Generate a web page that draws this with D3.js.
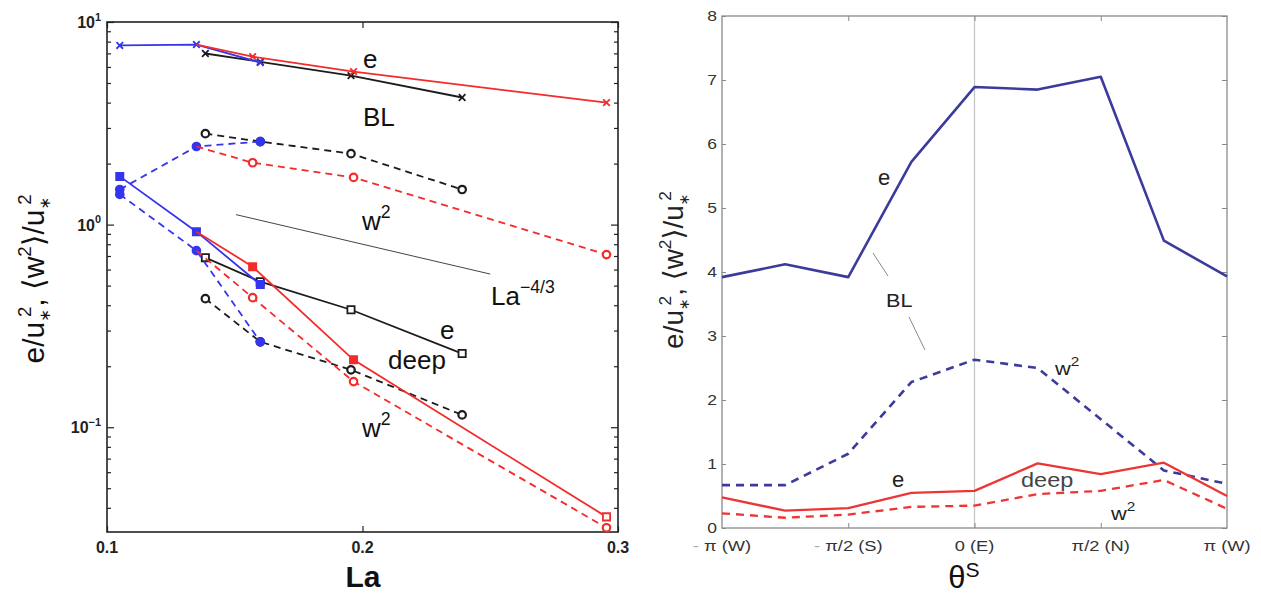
<!DOCTYPE html>
<html>
<head>
<meta charset="utf-8">
<script src="https://cdn.jsdelivr.net/npm/d3@7"></script>
<style>
  body { margin: 0; background: #fff; }
  text { font-family: "Liberation Sans", Arial, Helvetica, "DejaVu Sans", sans-serif; }
</style>
</head>
<body>
<div id="chart"></div>
<script>
const width = 1261;
const height = 595;

// ---- left panel data (La on x, log y) ----
const laBlue  = [0.105, 0.135, 0.16];
const laRed   = [0.135, 0.157, 0.1965, 0.2955];
const laBlack = [0.1385, 0.16, 0.1955, 0.239];

const blEBlue  = [7.66, 7.74, 6.31];
const blERed   = [7.74, 6.75, 5.69, 4.0];
const blEBlack = [6.99, 6.36, 5.44, 4.24];

const blW2Blue  = [1.49, 2.43, 2.57];
const blW2Red   = [2.43, 2.02, 1.71, 0.711];
const blW2Black = [2.81, 2.57, 2.24, 1.49];

const deepEBlue  = [1.73, 0.923, 0.506];
const deepERed   = [0.923, 0.62, 0.215, 0.0361];
const deepEBlack = [0.687, 0.523, 0.38, 0.231];

const deepW2Blue  = [1.41, 0.744, 0.264];
const deepW2Red   = [0.744, 0.436, 0.168, 0.0319];
const deepW2Black = [0.431, 0.264, 0.192, 0.115];

// La^-4/3 guide line end points
const refLa  = [0.1505, 0.25];
const refVal = [1.12, 0.57];

const laTicks = [0.1, 0.2, 0.3];
const decadeTicks = [0.1, 1, 10];

// ---- right panel data (theta^S in units of pi) ----
const thetaPi = [-1, -0.75, -0.5, -0.25, 0, 0.25, 0.5, 0.75, 1];
const eBL    = [3.92, 4.12, 3.92, 5.72, 6.89, 6.85, 7.05, 4.49, 3.93];
const w2BL   = [0.67, 0.67, 1.16, 2.28, 2.63, 2.5, 1.7, 0.9, 0.69];
const eDeep  = [0.48, 0.27, 0.31, 0.55, 0.58, 1.01, 0.84, 1.02, 0.5];
const w2Deep = [0.23, 0.16, 0.21, 0.33, 0.35, 0.53, 0.58, 0.75, 0.3];

const thetaTickPi = [-1, -0.5, 0, 0.5, 1];
const thetaTickLabels = [["-", "π (W)"], ["-", "π/2 (S)"], ["", "0 (E)"], ["", "π/2 (N)"], ["", "π (W)"]];

const cRed = "#f22b2b", cBlue = "#3535ee", cBlack = "#1c1c1c";
const cNavy = "#3b3b9c", cRed2 = "#ee3535";

const svg = d3.select("#chart")
  .append("svg")
  .attr("width", width)
  .attr("height", height);

// text with super/subscripts: parts = [{t, shift (em, neg = up), small, dx (em)}]
function rich(parent, x, y, size, parts) {
  const t = parent.append("text").attr("x", x).attr("y", y).style("font-size", size + "px");
  let level = 0;
  parts.forEach(p => {
    const ts = t.append("tspan").text(p.t);
    const off = (p.shift || 0) * size;
    if (off !== level) ts.attr("dy", off - level);
    level = off;
    if (p.small) ts.style("font-size", (size * p.small) + "px");
    if (p.dx) ts.attr("dx", p.dx * size);
  });
  return t;
}

const yLabelParts = [
  { t: "e/u" }, { t: "∗", shift: 0.2, small: 0.5 }, { t: "2", shift: -0.42, small: 0.62, dx: -0.26 },
  { t: ", ⟨w" }, { t: "2", shift: -0.42, small: 0.62 }, { t: "⟩/u" },
  { t: "∗", shift: 0.2, small: 0.5 }, { t: "2", shift: -0.42, small: 0.62, dx: -0.26 }
];

// ================= left panel =================
const xL = d3.scaleLinear().domain([0.1, 0.3]).range([107, 618]);
const yL = d3.scaleLog().domain([0.0304, 10]).range([532, 22]);
const left = svg.append("g");

const minorL = [];
[0.01, 0.1, 1].forEach(d => { for (let k = 2; k <= 9; k++) minorL.push(k * d); });
const minorIn = minorL.filter(v => v >= 0.0304 && v <= 10);

function styleTicks(g) {
  g.select(".domain").remove();
  g.selectAll("line").attr("stroke", "#222").attr("stroke-width", 1.2);
}

left.append("g").attr("transform", "translate(0,532)")
  .call(d3.axisBottom(xL).tickValues(laTicks).tickSize(-6).tickFormat(""))
  .call(styleTicks);
left.append("g").attr("transform", "translate(0,22)")
  .call(d3.axisTop(xL).tickValues(laTicks).tickSize(-6).tickFormat(""))
  .call(styleTicks);
left.append("g").attr("transform", "translate(107,0)")
  .call(d3.axisLeft(yL).tickValues(decadeTicks).tickSize(-7).tickFormat(""))
  .call(styleTicks);
left.append("g").attr("transform", "translate(107,0)")
  .call(d3.axisLeft(yL).tickValues(minorIn).tickSize(-4).tickFormat(""))
  .call(styleTicks);
left.append("g").attr("transform", "translate(618,0)")
  .call(d3.axisRight(yL).tickValues(decadeTicks).tickSize(-7).tickFormat(""))
  .call(styleTicks);
left.append("g").attr("transform", "translate(618,0)")
  .call(d3.axisRight(yL).tickValues(minorIn).tickSize(-4).tickFormat(""))
  .call(styleTicks);

left.append("rect")
  .attr("x", 107).attr("y", 22).attr("width", 511).attr("height", 510)
  .attr("fill", "none").attr("stroke", "#222").attr("stroke-width", 1.6);

// tick labels
left.selectAll(".xlab").data(laTicks).enter().append("text")
  .attr("x", d => xL(d)).attr("y", 553)
  .attr("text-anchor", "middle")
  .style("font-size", "16px").style("font-weight", "bold").style("fill", "#222")
  .text(d => d3.format(".1f")(d));

decadeTicks.forEach(d => {
  const t = rich(left, 101, yL(d) + 6, 16, [
    { t: "10" }, { t: String(Math.round(Math.log10(d))).replace("-", "−"), shift: -0.45, small: 0.68 }
  ]);
  t.attr("text-anchor", "end").style("font-weight", "bold").style("fill", "#222");
});

// guide line La^-4/3
const lineL = d3.line().x(d => xL(d[0])).y(d => yL(d[1]));
left.append("path")
  .attr("d", lineL(d3.zip(refLa, refVal)))
  .attr("fill", "none").attr("stroke", "#444").attr("stroke-width", 1);

const leftSeries = [
  { x: laBlack, y: blEBlack,    color: cBlack, dash: false, mark: "x" },
  { x: laBlack, y: blW2Black,   color: cBlack, dash: true,  mark: "o" },
  { x: laBlack, y: deepEBlack,  color: cBlack, dash: false, mark: "s" },
  { x: laBlack, y: deepW2Black, color: cBlack, dash: true,  mark: "o" },
  { x: laBlue,  y: blEBlue,     color: cBlue,  dash: false, mark: "x", fill: true },
  { x: laBlue,  y: blW2Blue,    color: cBlue,  dash: true,  mark: "o", fill: true },
  { x: laBlue,  y: deepEBlue,   color: cBlue,  dash: false, mark: "s", fill: true },
  { x: laBlue,  y: deepW2Blue,  color: cBlue,  dash: true,  mark: "o", fill: true },
  { x: laRed,   y: blERed,      color: cRed,   dash: false, mark: "x", skipFirst: true },
  { x: laRed,   y: blW2Red,     color: cRed,   dash: true,  mark: "o", skipFirst: true },
  { x: laRed,   y: deepERed,    color: cRed,   dash: false, mark: "s", skipFirst: true, fill: true },
  { x: laRed,   y: deepW2Red,   color: cRed,   dash: true,  mark: "o", skipFirst: true }
];

const symX = d3.symbol(d3.symbolTimes, 30);
const symS = d3.symbol(d3.symbolSquare, 52);
const symO = d3.symbol(d3.symbolCircle, 44);

leftSeries.forEach(s => {
  const pts = d3.zip(s.x, s.y);
  left.append("path")
    .attr("d", lineL(pts))
    .attr("fill", "none")
    .attr("stroke", s.color)
    .attr("stroke-width", 1.8)
    .attr("stroke-dasharray", s.dash ? "7,5" : null);

  const markPts = s.skipFirst ? pts.slice(1) : pts;
  const sym = s.mark === "x" ? symX : s.mark === "s" ? symS : symO;
  // the last red points at La=0.295 are drawn open
  left.selectAll(null).data(markPts).enter().append("path")
    .attr("transform", d => `translate(${xL(d[0])},${yL(d[1])})`)
    .attr("d", sym)
    .attr("fill", (d, i) => s.mark === "x" ? "none"
      : (s.fill && !(s.color === cRed && i === markPts.length - 1) ? s.color : "#fff"))
    .attr("stroke", s.color)
    .attr("stroke-width", s.mark === "o" ? 2.2 : 1.8);
});

// annotations
const annL = left.append("g").style("fill", "#111");
rich(annL, 363, 68, 26, [{ t: "e" }]);
rich(annL, 363, 126, 26, [{ t: "BL" }]);
rich(annL, 362, 230, 26, [{ t: "w" }, { t: "2", shift: -0.45, small: 0.68 }]);
rich(annL, 491, 305, 26, [{ t: "La" }, { t: "−4/3", shift: -0.45, small: 0.68 }]);
rich(annL, 440, 339, 26, [{ t: "e" }]);
rich(annL, 388, 369, 26, [{ t: "deep" }]);
rich(annL, 362, 437, 26, [{ t: "w" }, { t: "2", shift: -0.45, small: 0.68 }]);

// axis titles
left.append("text")
  .attr("x", 363).attr("y", 587)
  .attr("text-anchor", "middle")
  .style("font-size", "30px").style("font-weight", "bold").style("fill", "#111")
  .text("La");

const yTitleL = rich(left.append("g").attr("transform", "translate(44,279) rotate(-90)"), 0, 0, 30, yLabelParts);
yTitleL.attr("text-anchor", "middle").style("fill", "#111");

// ================= right panel =================
const xR = d3.scaleLinear().domain([-Math.PI, Math.PI]).range([722, 1227]);
const yR = d3.scaleLinear().domain([0, 8]).range([528, 16]);
const right = svg.append("g");

function styleTicksR(g) {
  g.select(".domain").remove();
  g.selectAll("line").attr("stroke", "#888").attr("stroke-width", 1);
}

const thetaTicks = thetaTickPi.map(p => p * Math.PI);

// zero line
right.append("line")
  .attr("x1", xR(0)).attr("x2", xR(0)).attr("y1", yR(8)).attr("y2", yR(0))
  .attr("stroke", "#c4c4c4").attr("stroke-width", 1.2);

right.append("g").attr("transform", "translate(0,528)")
  .call(d3.axisBottom(xR).tickValues(thetaTicks.slice(1, 4)).tickSize(-5).tickFormat(""))
  .call(styleTicksR);
right.append("g").attr("transform", "translate(0,16)")
  .call(d3.axisTop(xR).tickValues(thetaTicks.slice(1, 4)).tickSize(-5).tickFormat(""))
  .call(styleTicksR);
right.append("g").attr("transform", "translate(1227,0)")
  .call(d3.axisRight(yR).ticks(8).tickSize(-5).tickFormat(""))
  .call(styleTicksR);
const yAxR = right.append("g").attr("transform", "translate(722,0)")
  .call(d3.axisLeft(yR).ticks(8).tickSize(-4).tickPadding(4).tickFormat(d3.format("d")))
  .call(styleTicksR);
yAxR.selectAll("text")
  .attr("transform", "scale(1.25,1)")
  .style("font-size", "14px").style("fill", "#333")
  .style("font-family", "'Liberation Sans', Arial, sans-serif");

right.append("rect")
  .attr("x", 722).attr("y", 16).attr("width", 505).attr("height", 512)
  .attr("fill", "none").attr("stroke", "#8a8a8a").attr("stroke-width", 1.3);

// x tick labels
right.selectAll(".tlab").data(thetaTicks).enter().append("g")
  .attr("transform", d => `translate(${xR(d)},551) scale(1.22,1)`)
  .each(function (d, i) {
    const t = d3.select(this).append("text")
      .attr("text-anchor", "middle")
      .style("font-size", "15px").style("fill", "#333");
    const lab = thetaTickLabels[i];
    if (lab[0]) t.append("tspan").text(lab[0] + " ").style("fill", "#aaa");
    t.append("tspan").text(lab[1]);
  });

const lineR = d3.line().x(d => xR(d[0] * Math.PI)).y(d => yR(d[1]));
const rightSeries = [
  { y: eBL,    color: cNavy, dash: false, w: 2.6 },
  { y: w2BL,   color: cNavy, dash: true,  w: 2.6 },
  { y: eDeep,  color: cRed2, dash: false, w: 2.3 },
  { y: w2Deep, color: cRed2, dash: true,  w: 2.3 }
];
rightSeries.forEach(s => {
  right.append("path")
    .attr("d", lineR(d3.zip(thetaPi, s.y)))
    .attr("fill", "none")
    .attr("stroke", s.color)
    .attr("stroke-width", s.w)
    .attr("stroke-linejoin", "round")
    .attr("stroke-dasharray", s.dash ? "8,6" : null);
});

// annotations
const annR = right.append("g").style("fill", "#222");
rich(annR, 878, 185, 22, [{ t: "e" }]);
rich(annR.append("g").attr("transform", "translate(886,307) scale(1.2,1)"), 0, 0, 18, [{ t: "BL" }]);
right.append("line").attr("x1", 873).attr("y1", 253).attr("x2", 888).attr("y2", 276)
  .attr("stroke", "#888").attr("stroke-width", 1);
right.append("line").attr("x1", 909).attr("y1", 317).attr("x2", 925).attr("y2", 350)
  .attr("stroke", "#888").attr("stroke-width", 1);
rich(annR.append("g").attr("transform", "translate(1055,375) scale(1.15,1)"), 0, 0, 19,
  [{ t: "w" }, { t: "2", shift: -0.45, small: 0.7 }]);
rich(annR, 892, 487, 22, [{ t: "e" }]);
rich(annR.append("g").attr("transform", "translate(1021,487) scale(1.12,1)"), 0, 0, 21, [{ t: "deep" }])
  .style("fill", "#444");
rich(annR.append("g").attr("transform", "translate(1111,520) scale(1.15,1)"), 0, 0, 19,
  [{ t: "w" }, { t: "2", shift: -0.45, small: 0.7 }]);

// axis titles
rich(right, 964, 588, 31, [{ t: "θ" }, { t: "S", shift: -0.36, small: 0.68 }])
  .attr("text-anchor", "middle").style("fill", "#111");

const yTitleR = rich(right.append("g").attr("transform", "translate(683,270) rotate(-90)"), 0, 0, 28, yLabelParts);
yTitleR.attr("text-anchor", "middle").style("fill", "#222");
</script>
</body>
</html>
